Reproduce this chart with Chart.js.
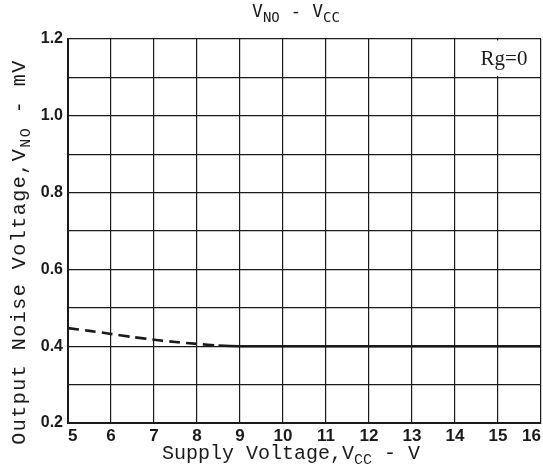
<!DOCTYPE html>
<html>
<head>
<meta charset="utf-8">
<script src="https://cdn.jsdelivr.net/npm/chart.js@4/dist/chart.umd.min.js"></script>
<style>
  html, body { margin: 0; padding: 0; background: #fff; }
  #wrap { width: 543px; height: 474px; }
</style>
</head>
<body>
<div id="wrap"><canvas id="chart"></canvas></div>
<script>
/**
 * DATA
 */
const supplyVoltage = [5, 5.5, 6, 6.5, 7, 7.5, 8, 8.5, 9, 10, 11, 12, 13, 14, 15, 16];
const noiseVoltage = [0.447, 0.440, 0.432, 0.424, 0.417, 0.411, 0.406, 0.402, 0.400, 0.400, 0.400, 0.400, 0.400, 0.400, 0.400, 0.400];
const dashedUntil = 8.5;   // measured part ends here, drawn dashed before it
const xTicks = [5, 6, 7, 8, 9, 10, 11, 12, 13, 14, 15, 16];
const yTicks = ["0.2", "", "0.4", "", "0.6", "", "0.8", "", "1.0", "", "1.2"];
const noteText = "Rg=0";

const INK = "#1a1a1a";

/**
 * AUX
 */
// draws a run of [text, isSub] pieces starting at x
const drawRuns = (ctx, runs, x, y, font, subFont) => {
  let cx = x;
  runs.forEach(([t, sub]) => {
    ctx.font = sub ? subFont : font;
    ctx.fillText(t, cx, sub ? y + 5 : y);
    cx += ctx.measureText(t).width;
  });
};

const runsWidth = (ctx, runs, font, subFont) => {
  let w = 0;
  runs.forEach(([t, sub]) => {
    ctx.font = sub ? subFont : font;
    w += ctx.measureText(t).width;
  });
  return w;
};

const labelsPlugin = {
  id: "labels",
  beforeDatasetsDraw(chart) {
    const { ctx, scales: { x, y } } = chart;
    // the note cell spans two columns, so wipe the grid line inside it
    const l = x.getPixelForValue(14), r = x.getPixelForValue(16);
    const t = y.getPixelForValue(1.2), b = y.getPixelForValue(1.1);
    ctx.save();
    ctx.fillStyle = "#fff";
    ctx.fillRect(l + 1.5, t + 1.5, r - l - 3, b - t - 3);
    ctx.fillStyle = INK;
    ctx.font = "21px 'Liberation Serif'";
    ctx.textAlign = "center";
    ctx.textBaseline = "middle";
    ctx.fillText(noteText, (l + r) / 2 + 6, (t + b) / 2 + 1);
    ctx.restore();
  },
  afterDraw(chart) {
    const { ctx } = chart;
    ctx.save();
    ctx.fillStyle = INK;
    ctx.textBaseline = "alphabetic";
    ctx.textAlign = "left";

    // title
    const tFont = "18px 'DejaVu Sans Mono'";
    const tSub = "14px 'DejaVu Sans Mono'";
    const title = [["V", false], ["NO", true], [" - V", false], ["CC", true]];
    const tw = runsWidth(ctx, title, tFont, tSub);
    drawRuns(ctx, title, 296 - tw / 2, 17, tFont, tSub);

    // x axis title
    const aFont = "20px 'Liberation Mono'";
    const aSub = "15px 'Liberation Mono'";
    const xTitle = [["Supply Voltage,V", false], ["CC", true], [" - V", false]];
    const xw = runsWidth(ctx, xTitle, aFont, aSub);
    drawRuns(ctx, xTitle, 291 - xw / 2, 459, aFont, aSub);

    // y axis title, rotated and a little more spaced
    ctx.letterSpacing = "1.5px";
    const yTitle = [["Output Noise Voltage,V", false], ["NO", true], [" - mV", false]];
    const yw = runsWidth(ctx, yTitle, aFont, aSub);
    ctx.translate(25, 252);
    ctx.rotate(-Math.PI / 2);
    drawRuns(ctx, yTitle, -yw / 2, 0, aFont, aSub);
    ctx.restore();
  }
};

/**
 * CHART
 */
new Chart(document.getElementById("chart"), {
  type: "scatter",
  data: {
    datasets: [{
      data: supplyVoltage.map((v, i) => ({ x: v, y: noiseVoltage[i] })),
      showLine: true,
      borderColor: INK,
      borderWidth: 2.6,
      pointRadius: 0,
      tension: 0.3,
      segment: {
        borderDash: c => c.p0.parsed.x < dashedUntil ? [11, 6] : undefined
      }
    }]
  },
  options: {
    responsive: true,
    maintainAspectRatio: false,
    animation: false,
    layout: { padding: { top: 39, right: 2, left: 0, bottom: 0 } },
    plugins: { legend: { display: false }, tooltip: { enabled: false } },
    scales: {
      x: {
        type: "linear",
        min: 5, max: 16,
        afterBuildTicks: s => { s.ticks = xTicks.map(v => ({ value: v })); },
        afterFit: s => { s.height = 51; s.paddingLeft = 0; s.paddingRight = 0; },
        grid: { color: INK, lineWidth: 1.2, drawTicks: false },
        border: { color: INK, width: 2 },
        ticks: {
          color: INK,
          padding: 3,
          align: "inner",
          font: { family: "'Liberation Sans'", weight: "bold", size: 17 },
          callback: v => v
        }
      },
      y: {
        min: 0.2, max: 1.2,
        afterBuildTicks: s => { s.ticks = yTicks.map((_, i) => ({ value: 0.2 + i / 10 })); },
        afterFit: s => { s.width = 68; s.paddingTop = 0; s.paddingBottom = 0; },
        grid: { color: INK, lineWidth: 1.2, drawTicks: false },
        border: { color: INK, width: 2 },
        ticks: {
          color: INK,
          padding: 5,
          font: { family: "'Liberation Sans'", weight: "bold", size: 16 },
          callback: (v, i) => yTicks[i]
        }
      }
    }
  },
  plugins: [labelsPlugin]
});
</script>
</body>
</html>
